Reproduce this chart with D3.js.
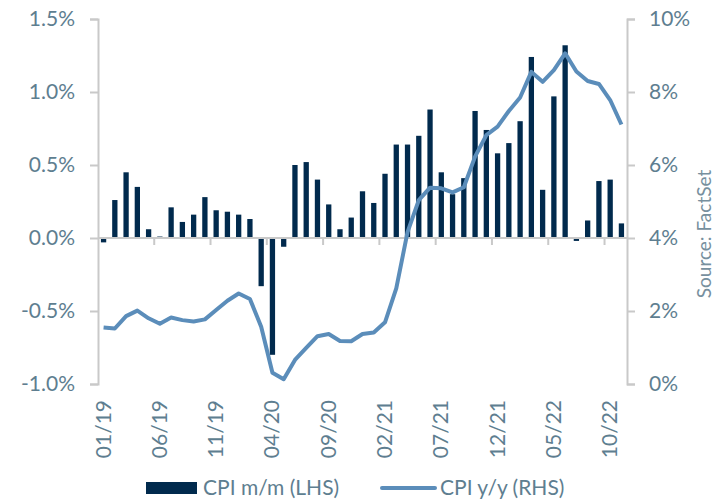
<!DOCTYPE html>
<html>
<head>
<meta charset="utf-8">
<script src="https://cdn.jsdelivr.net/npm/d3@7"></script>
<style>
  body { margin: 0; background: #fff; }
  text { font-family: Lato, "Open Sans", sans-serif; }
</style>
</head>
<body>
<svg id="chart" width="715" height="499"></svg>
<script>
// monthly, 01/19 .. 11/22
var months = ["01/19","02/19","03/19","04/19","05/19","06/19","07/19","08/19","09/19","10/19","11/19","12/19",
              "01/20","02/20","03/20","04/20","05/20","06/20","07/20","08/20","09/20","10/20","11/20","12/20",
              "01/21","02/21","03/21","04/21","05/21","06/21","07/21","08/21","09/21","10/21","11/21","12/21",
              "01/22","02/22","03/22","04/22","05/22","06/22","07/22","08/22","09/22","10/22","11/22"];
// CPI m/m (LHS), %
var cpiMoM = [-0.03, 0.26, 0.45, 0.35, 0.06, 0.01, 0.21, 0.11, 0.16, 0.28, 0.19, 0.18,
              0.16, 0.13, -0.33, -0.80, -0.06, 0.50, 0.52, 0.40, 0.23, 0.06, 0.14, 0.32,
              0.24, 0.44, 0.64, 0.64, 0.70, 0.88, 0.45, 0.30, 0.41, 0.87, 0.74, 0.58,
              0.65, 0.80, 1.24, 0.33, 0.97, 1.32, -0.02, 0.12, 0.39, 0.40, 0.10];
// CPI y/y (RHS), %
var cpiYoY = [1.55, 1.52, 1.86, 2.01, 1.80, 1.65, 1.82, 1.75, 1.71, 1.77, 2.03, 2.28,
              2.48, 2.33, 1.57, 0.31, 0.13, 0.66, 0.99, 1.31, 1.37, 1.18, 1.17, 1.37,
              1.41, 1.69, 2.62, 4.16, 5.04, 5.38, 5.36, 5.25, 5.39, 6.23, 6.82, 7.05,
              7.48, 7.85, 8.55, 8.28, 8.60, 9.06, 8.56, 8.30, 8.22, 7.78, 7.11];
var leftTicks = [-1.0, -0.5, 0.0, 0.5, 1.0, 1.5];
var rightTicks = [0, 2, 4, 6, 8, 10];
var labelEvery = 5;

var svg = d3.select("#chart"),
    margin = { top: 19, right: 88, bottom: 115, left: 98 },
    width = +svg.attr("width"),
    height = +svg.attr("height"),
    plotW = width - margin.left - margin.right,
    plotH = height - margin.top - margin.bottom;

var textColor = "#5e7e90",
    axisColor = "#c9c9c9",
    barColor = "#012a4d",
    lineColor = "#5b8dba";

var x = d3.scaleBand().domain(months).range([0, plotW]).paddingInner(0.53).paddingOuter(0.26);
var yL = d3.scaleLinear().domain([-1.0, 1.5]).range([plotH, 0]);
var yR = d3.scaleLinear().domain([0, 10]).range([plotH, 0]);

var g = svg.append("g").attr("transform", "translate(" + margin.left + "," + margin.top + ")");

// title (only its lower edge shows at the top of the picture)
svg.append("text")
    .attr("x", 362).attr("y", 0)
    .attr("text-anchor", "middle")
    .attr("font-size", 24)
    .attr("fill", "#a9c9e8")
    .text("US headline CPI inflation");

// bars
g.selectAll("rect.bar")
    .data(cpiMoM)
    .enter().append("rect")
    .attr("class", "bar")
    .attr("x", function (d, i) { return x(months[i]); })
    .attr("width", x.bandwidth())
    .attr("y", function (d) { return yL(Math.max(0, d)); })
    .attr("height", function (d) { return Math.max(0.8, Math.abs(yL(d) - yL(0))); })
    .attr("fill", barColor);

// x axis on zero line, ticks at category boundaries
var step = x.step();
var gx = g.append("g").attr("transform", "translate(0," + yL(0) + ")");
gx.append("line")
    .attr("x1", 0).attr("x2", plotW)
    .attr("stroke", axisColor).attr("stroke-width", 2);
months.forEach(function (m, i) {
    if (i % labelEvery === 0 && i > 0) {
        var bx = x(m) - step * x.paddingInner() / 2;
        gx.append("line")
            .attr("x1", bx).attr("x2", bx)
            .attr("y1", 0).attr("y2", 7)
            .attr("stroke", axisColor).attr("stroke-width", 2);
    }
});

// x labels, rotated
months.forEach(function (m, i) {
    if (i % labelEvery !== 0) return;
    var cx = margin.left + x(m) + x.bandwidth() / 2;
    svg.append("text")
        .attr("transform", "translate(" + (cx + 7) + ",400) rotate(-90)")
        .attr("text-anchor", "end")
        .attr("font-size", 21)
        .attr("fill", textColor)
        .text(m);
});

var fmtL = function (v) { return v.toFixed(1) + "%"; };   // plain hyphen for negatives

// left axis
var axL = g.append("g")
    .call(d3.axisLeft(yL).tickValues(leftTicks).tickSize(8).tickPadding(15).tickFormat(fmtL));
axL.select(".domain").attr("stroke", axisColor).attr("stroke-width", 2);
axL.selectAll(".tick line").attr("stroke", axisColor).attr("stroke-width", 2);
axL.selectAll(".tick text")
    .attr("fill", textColor)
    .attr("font-size", 21)
    .attr("font-family", "Lato, sans-serif");

// right axis
var axR = g.append("g")
    .attr("transform", "translate(" + plotW + ",0)")
    .call(d3.axisRight(yR).tickValues(rightTicks).tickSize(8).tickPadding(14)
        .tickFormat(function (v) { return v + "%"; }));
axR.select(".domain").attr("stroke", axisColor).attr("stroke-width", 2);
axR.selectAll(".tick line").attr("stroke", axisColor).attr("stroke-width", 2);
axR.selectAll(".tick text")
    .attr("fill", textColor)
    .attr("font-size", 21)
    .attr("font-family", "Lato, sans-serif");

// line
var line = d3.line()
    .x(function (d, i) { return x(months[i]) + x.bandwidth() / 2; })
    .y(function (d) { return yR(d); });
g.append("path")
    .datum(cpiYoY)
    .attr("d", line)
    .attr("fill", "none")
    .attr("stroke", lineColor)
    .attr("stroke-width", 4)
    .attr("stroke-linejoin", "round");

// source
svg.append("text")
    .attr("transform", "translate(711,234) rotate(-90)")
    .attr("text-anchor", "middle")
    .attr("font-size", 19)
    .attr("fill", "#77909e")
    .text("Source: FactSet");

// legend
var lg = svg.append("g");
lg.append("rect").attr("x", 146).attr("y", 482).attr("width", 51).attr("height", 12).attr("fill", barColor);
lg.append("text").attr("x", 203).attr("y", 495).attr("font-size", 21).attr("fill", textColor).text("CPI m/m (LHS)");
lg.append("line").attr("x1", 382).attr("x2", 435).attr("y1", 488).attr("y2", 488)
    .attr("stroke", lineColor).attr("stroke-width", 4).attr("stroke-linecap", "round");
lg.append("text").attr("x", 440).attr("y", 495).attr("font-size", 21).attr("fill", textColor).text("CPI y/y (RHS)");
</script>
</body>
</html>
